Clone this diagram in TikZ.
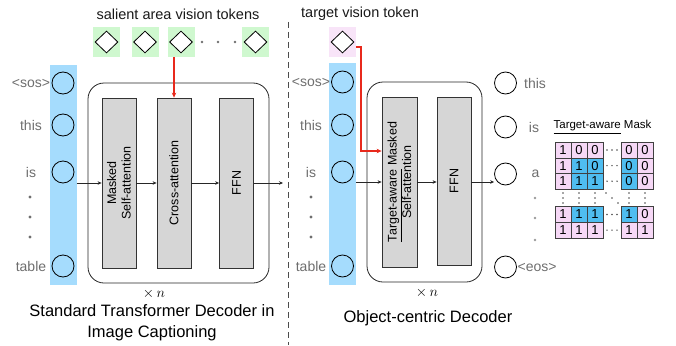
\documentclass[tikz,border=0pt]{standalone}
\usepackage{fontspec}
\setmainfont{Liberation Sans}
\usetikzlibrary{positioning,calc,shapes.geometric,arrows.meta}

\definecolor{tokgreen}{HTML}{CFF8CF}
\definecolor{tokpink}{HTML}{F8E4F8}
\definecolor{colblue}{HTML}{A5DCFD}
\definecolor{mblue}{HTML}{4FBDF0}
\definecolor{mpink}{HTML}{F6D8F6}
\definecolor{lblgray}{HTML}{6E6E6E}
\definecolor{boxgray}{HTML}{D6D6D6}
\definecolor{arrred}{HTML}{E8291C}

\tikzset{
  tokbox/.style={fill=tokgreen, minimum width=27pt, minimum height=30pt, inner sep=0},
  vdiam/.style={diamond, draw, fill=white, line width=0.8pt, minimum width=23pt, minimum height=22pt, inner sep=0},
  wordcol/.style={fill=colblue, minimum width=27pt, inner sep=0},
  wcirc/.style={circle, draw, line width=0.8pt, minimum size=22pt, inner sep=0},
  wlbl/.style={text=lblgray, font=\fontsize{14}{16}\selectfont, inner sep=0},
  title/.style={text=black!90, font=\fontsize{14.5}{17}\selectfont},
  layer/.style={draw=black!80, fill=boxgray, line width=0.8pt, minimum width=34pt, minimum height=170pt, inner sep=0},
  layertxt/.style={rotate=90, align=center, font=\fontsize{12.5}{14.5}\selectfont},
  decbox/.style={draw=black!85, line width=0.8pt, rounded corners=16pt, minimum height=200pt, inner sep=0},
  flow/.style={-{Stealth[length=4pt,width=3.5pt]}, line width=0.6pt, black!85},
  redflow/.style={-{Stealth[length=5pt,width=4.5pt]}, line width=1.1pt, arrred},
  gdot/.style={circle, fill=lblgray, inner sep=0, minimum size=3.2pt},
  cell/.style={draw=black!75, line width=0.6pt, minimum width=16pt, minimum height=15.6pt, inner sep=0, font=\fontsize{13}{13}\selectfont},
  mdot/.style={circle, fill=black!70, inner sep=0, minimum size=1.6pt},
  caption/.style={align=center, font=\fontsize{16.5}{21}\selectfont},
}

\begin{document}
\begin{tikzpicture}[x=1pt, y=-1pt]
\useasboundingbox (0,0) rectangle (676,345);

% salient area vision tokens
\node[title] (t0) at (178,14) {salient area vision tokens};
\node[tokbox] (v1) at (106.5,42) {};
\node[tokbox] (v2) at (145,42) {};
\node[tokbox] (v3) at (181,42) {};
\node[tokbox] (v4) at (255.5,42) {};
\foreach \v in {v1,v2,v3,v4} \node[vdiam] at (\v) {};
\foreach \x in {202,218,235} \node[gdot, minimum size=2.6pt] at (\x,42) {};

% input words (left)
\node[wordcol, minimum height=220pt] (c0) at (63,175) {};
\node[wcirc] (s0) at (63,83) {};
\node[wcirc] (s1) at (63,125) {};
\node[wcirc] (s2) at (63,172) {};
\node[wcirc] (s3) at (63,266) {};
\node[wlbl] at (31,83) {<sos>};
\node[wlbl] at (31,125) {this};
\node[wlbl] at (31,172) {is};
\node[wlbl] at (31,266) {table};
\foreach \y in {197,217,237} \node[gdot] at (30,\y) {};

% standard decoder
\node[decbox, minimum width=181pt] (L) at (178.5,183) {};
\node[layer] (m1) at (119,183) {};
\node[layer] (m2) at (174,183) {};
\node[layer] (m3) at (236.5,183) {};
\node[layertxt] at (m1) {Masked\\Self-attention};
\node[layertxt] at (m2) {Cross-attention};
\node[layertxt] at (m3) {FFN};

\coordinate (ax) at (283,183);
\draw[flow] (c0.east |- m1) -- (m1.west);
\draw[flow] (m1.east) -- (m2.west);
\draw[flow] (m2.east) -- (m3.west);
\draw[flow] (m3.east) -- (ax);
\draw[redflow] (v3.south -| m2) -- (m2.north);

\node[font=\fontsize{14}{16}\selectfont] (n0) at (154,294) {$\times\,n$};
\node[caption] at (152,323) {Standard Transformer Decoder in\\Image Captioning};

% separator
\coordinate (d0) at (288,22);
\coordinate (d1) at (288,345);
\draw[dashed, dash pattern=on 6pt off 4pt, black!70, line width=0.8pt] (d0) -- (d1);

% target vision token
\node[title] (t1) at (360,14) {target vision token};
\node[tokbox, fill=tokpink] (p0) at (342.5,42) {};
\node[vdiam] at (p0) {};

% input words (right)
\node[wordcol, minimum height=222pt] (c1) at (342.5,174) {};
\node[wcirc] (r0) at (342.5,82) {};
\node[wcirc] (r1) at (342.5,125) {};
\node[wcirc] (r2) at (342.5,172) {};
\node[wcirc] (r3) at (342.5,266) {};
\node[wlbl] at (311,82) {<sos>};
\node[wlbl] at (311,125) {this};
\node[wlbl] at (311,172) {is};
\node[wlbl] at (311,266) {table};
\foreach \y in {197,217,237} \node[gdot] at (311,\y) {};

% object-centric decoder
\node[decbox, minimum width=115pt] (R) at (424.5,182) {};
\node[layer, minimum width=35pt] (g1) at (399.5,182) {};
\node[layer, minimum height=168pt] (g2) at (454,181) {};
\node[layertxt] at (g1) {\underline{Target-aware} Masked\\Self-attention};
\node[layertxt] at (g2) {FFN};

% output words
\node[wcirc] (o0) at (505.5,83) {};
\node[wcirc] (o1) at (505.5,127) {};
\node[wcirc] (o2) at (505.5,174) {};
\node[wcirc] (o3) at (505.5,267) {};
\node[wlbl] at (535,83) {this};
\node[wlbl] at (534,127) {is};
\node[wlbl] at (535.5,174) {a};
\node[wlbl, right=0.5pt of o3] {<eos>};
\foreach \y in {198,218,240} \node[gdot, fill=black!40, minimum size=2.6pt] at (535,\y) {};

\draw[flow] (c1.east |- g1) -- (g1.west);
\draw[flow] (g1.east) -- (g1.east -| g2.west);
\draw[flow] (g1 -| g2.east) -- (g1 -| o2.west);
\coordinate (rk) at (361,151);
\draw[redflow] ($(p0.east)+(0,5)$) -| (rk) -- (rk -| g1.west);

\node[font=\fontsize{14}{16}\selectfont] (n1) at (427,293) {$\times\,n$};
\node[caption] at (428,318) {Object-centric Decoder};

% target-aware mask
\node[font=\fontsize{11.5}{13}\selectfont] (mk) at (602.5,127) {\underline{Target-aware} Mask};
\foreach \x/\f/\d in {563/mpink/1,579/mpink/0,595/mpink/0,629/mpink/0,645/mpink/0}
  \node[cell, fill=\f] at (\x,150) {\d};
\foreach \x/\f/\d in {563/mpink/1,579/mblue/1,595/mblue/0,629/mblue/0,645/mpink/0}
  \node[cell, fill=\f] at (\x,165.6) {\d};
\foreach \x/\f/\d in {563/mpink/1,579/mblue/1,595/mblue/1,629/mblue/0,645/mpink/0}
  \node[cell, fill=\f] at (\x,181.2) {\d};
\foreach \x/\f/\d in {563/mpink/1,579/mblue/1,595/mblue/1,629/mblue/1,645/mpink/0}
  \node[cell, fill=\f] at (\x,214.5) {\d};
\foreach \x/\f/\d in {563/mpink/1,579/mpink/1,595/mpink/1,629/mpink/1,645/mpink/1}
  \node[cell, fill=\f] at (\x,230.1) {\d};
\foreach \y in {150,165.6,181.2,214.5,230.1}
  \foreach \x in {607,612,617} \node[mdot] at (\x,\y) {};
\foreach \x in {563,579,595,629,645}
  \foreach \y in {193,198,203} \node[mdot] at (\x,\y) {};
\foreach \x/\y in {606/193,612/198,618/203} \node[mdot] at (\x,\y) {};

\end{tikzpicture}
\end{document}
